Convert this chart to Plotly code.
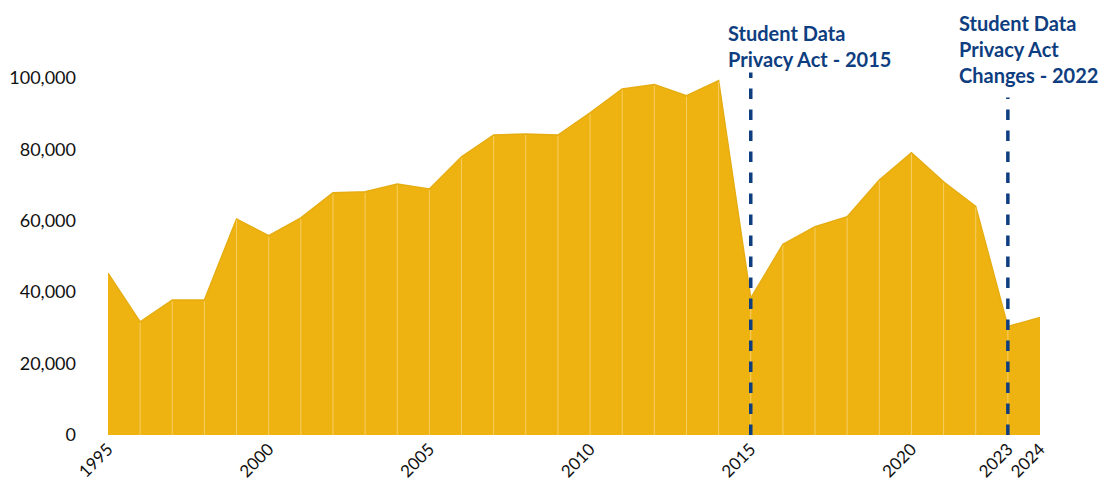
import plotly.graph_objects as go

years = list(range(1995, 2025))
values = [45300, 31700, 37800, 37800, 60500, 55800, 60800, 67800, 68100, 70300,
          68900, 77900, 84000, 84300, 84000, 90200, 96900, 98100, 95000, 99200,
          38300, 53400, 58300, 61100, 71400, 79000, 70900, 64000, 30400, 32900]
tick_years = [1995, 2000, 2005, 2010, 2015, 2020, 2023, 2024]
event_years = [2015, 2023]
event_tops = [101500, 94500]
event_labels = ["Student Data<br>Privacy Act - 2015",
                "Student Data<br>Privacy Act<br>Changes - 2022"]

FILL = "#EFB311"
NAVY = "#0E3E80"
FONT = "Lato"

fig = go.Figure()
fig.add_trace(go.Scatter(x=years, y=values, mode="lines", fill="tozeroy",
                         fillcolor=FILL, line=dict(color="#E6AD12", width=1.5),
                         hoverinfo="skip", showlegend=False))

# faint vertical separators at each year
vx, vy = [], []
for yr, v in zip(years[1:-1], values[1:-1]):
    vx += [yr, yr, None]
    vy += [0, v - 300, None]
fig.add_trace(go.Scatter(x=vx, y=vy, mode="lines",
                         line=dict(color="rgba(255,240,200,0.45)", width=1),
                         hoverinfo="skip", showlegend=False))

# dashed event lines
for yr, top in zip(event_years, event_tops):
    fig.add_trace(go.Scatter(x=[yr, yr], y=[0, top], mode="lines",
                             line=dict(color=NAVY, width=3.5, dash="dash"),
                             hoverinfo="skip", showlegend=False))

ann_pos = [(2014.23, 1.11), (2021.42, 1.135)]
for (ax, ay), txt in zip(ann_pos, event_labels):
    fig.add_annotation(x=ax, y=ay, xref="x", yref="paper", text=txt,
                       showarrow=False, xanchor="left", yanchor="top",
                       align="left",
                       font=dict(family=FONT, size=20, color=NAVY, weight="bold"))

fig.update_layout(
    width=1102, height=488,
    margin=dict(l=100, r=70, t=52, b=61),
    paper_bgcolor="white", plot_bgcolor="white",
    font=dict(family=FONT, color="#111111"),
    xaxis=dict(range=[1995, 2024], tickmode="array", tickvals=tick_years,
               ticktext=[str(t) for t in tick_years], tickangle=-45,
               showgrid=False, zeroline=False, showline=False, automargin=False,
               tickfont=dict(size=17, family=FONT, color="#111111")),
    yaxis=dict(range=[0, 105000], tickvals=[0, 20000, 40000, 60000, 80000, 100000],
               tickformat=",d", showgrid=False, zeroline=False, showline=False,
               ticklabelstandoff=31, automargin=False,
               tickfont=dict(size=18, family=FONT, color="#111111")),
)

fig.write_html("out.html")
